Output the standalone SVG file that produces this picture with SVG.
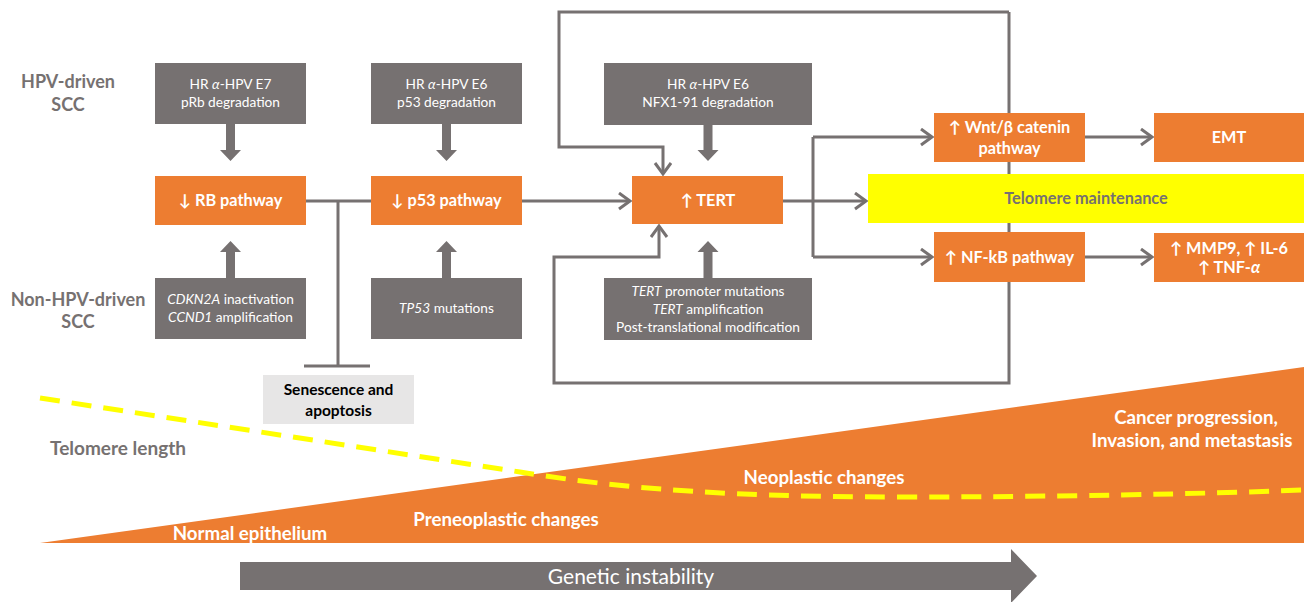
<svg xmlns="http://www.w3.org/2000/svg" width="1306" height="602" viewBox="0 0 1306 602">
<style>
text{font-family:Lato,"Liberation Sans","DejaVu Sans",sans-serif}
.g{fill:#767171}
.o{fill:#ED7D31}
.wt{fill:#fff;font-size:13.7px;text-anchor:middle}
.ot{fill:#fff;font-size:16.3px;font-weight:bold;text-anchor:middle}
.lb{fill:#767171;font-size:18px;font-weight:bold;text-anchor:middle}
.tri{fill:#fff;font-size:18.7px;font-weight:bold;text-anchor:middle}
.ln{fill:none;stroke:#767171;stroke-width:3}
</style>
<defs>
<marker id="ah" markerUnits="userSpaceOnUse" markerWidth="16" markerHeight="20" refX="13" refY="9" orient="auto" viewBox="0 0 16 20">
<path d="M2,1 L13,9 L2,17" fill="none" stroke="#767171" stroke-width="3"/>
</marker>
</defs>

<!-- background progression -->
<g id="progression">
<polygon class="o" points="40,543 1304,367 1304,543"/>
<path d="M40,398 L520,472 C600,485 700,497 900,497 C1050,497 1200,494 1304,490" fill="none" stroke="#FFFF00" stroke-width="5" stroke-dasharray="20,12"/>
<text class="tri" x="250" y="540">Normal epithelium</text>
<text class="tri" x="506" y="526">Preneoplastic changes</text>
<text class="tri" x="824" y="484">Neoplastic changes</text>
<text class="tri" x="1196" y="424">Cancer progression,</text>
<text class="tri" x="1192" y="447">Invasion, and metastasis</text>
<text class="lb" x="118" y="455" style="font-size:19px">Telomere length</text>
</g>

<g id="genetic-instability">
<polygon class="g" points="240,562 1011,562 1011,549 1037,576 1011,603 1011,590 240,590"/>
<text x="631" y="584" style="fill:#fff;font-size:21px;text-anchor:middle">Genetic instability</text>
</g>

<g id="row-labels">
<text class="lb" x="68" y="88">HPV-driven</text>
<text class="lb" x="68" y="111">SCC</text>
<text class="lb" x="78" y="306">Non-HPV-driven</text>
<text class="lb" x="78" y="328">SCC</text>
</g>

<!-- connectors -->
<g id="connectors">
<path class="ln" d="M306,201 H371"/>
<path class="ln" d="M338,201 V366"/>
<path class="ln" d="M304,366 H370"/>
<path class="ln" d="M522,201 H630" marker-end="url(#ah)"/>
<path class="ln" d="M1009,12 H559 V147 H663 V174" marker-end="url(#ah)"/>
<path class="ln" d="M1009,12 V383 H554 V257 H659 V226" marker-end="url(#ah)"/>
<path class="ln" d="M783,201 H866" marker-end="url(#ah)"/>
<path class="ln" d="M813,137 V257"/>
<path class="ln" d="M813,137 H932" marker-end="url(#ah)"/>
<path class="ln" d="M813,257 H932" marker-end="url(#ah)"/>
<path class="ln" d="M1085,137 H1152" marker-end="url(#ah)"/>
<path class="ln" d="M1085,257 H1152" marker-end="url(#ah)"/>
<!-- block arrows -->
<polygon class="g" points="226,124 235,124 235,150 241,150 230.5,161 220,150 226,150"/>
<polygon class="g" points="226,278 235,278 235,252 241,252 230.5,241 220,252 226,252"/>
<polygon class="g" points="442,124 451,124 451,150 457,150 446.5,161 436,150 442,150"/>
<polygon class="g" points="442,278 451,278 451,252 457,252 446.5,241 436,252 442,252"/>
<polygon class="g" points="703.5,125 712.5,125 712.5,150 718.5,150 708,161 697.5,150 703.5,150"/>
<polygon class="g" points="703.5,278 712.5,278 712.5,252 718.5,252 708,241 697.5,252 703.5,252"/>
</g>

<g id="e7">
<rect class="g" x="155" y="63" width="151" height="61"/>
<text class="wt" x="230.5" y="89">HR <tspan font-style="italic">α</tspan>-HPV E7</text>
<text class="wt" x="230.5" y="107">pRb degradation</text>
</g>
<g id="rb">
<rect class="o" x="155" y="176" width="151" height="49"/>
<text class="ot" x="230.5" y="206">↓ RB pathway</text>
</g>
<g id="cdkn2a">
<rect class="g" x="155" y="278" width="151" height="61"/>
<text class="wt" x="230.5" y="304"><tspan font-style="italic">CDKN2A</tspan> inactivation</text>
<text class="wt" x="230.5" y="322"><tspan font-style="italic">CCND1</tspan> amplification</text>
</g>

<g id="e6-p53">
<rect class="g" x="371" y="63" width="151" height="61"/>
<text class="wt" x="446.5" y="89">HR <tspan font-style="italic">α</tspan>-HPV E6</text>
<text class="wt" x="446.5" y="107">p53 degradation</text>
</g>
<g id="p53">
<rect class="o" x="371" y="176" width="151" height="49"/>
<text class="ot" x="446.5" y="206">↓ p53 pathway</text>
</g>
<g id="tp53">
<rect class="g" x="371" y="278" width="151" height="61"/>
<text class="wt" x="446.5" y="313"><tspan font-style="italic">TP53</tspan> mutations</text>
</g>

<g id="senescence">
<rect x="263" y="375" width="151" height="49" fill="#E7E6E6"/>
<text x="338.5" y="395" style="fill:#000;font-size:15.5px;font-weight:bold;text-anchor:middle">Senescence and</text>
<text x="338.5" y="416" style="fill:#000;font-size:15.5px;font-weight:bold;text-anchor:middle">apoptosis</text>
</g>

<g id="e6-nfx">
<rect class="g" x="604" y="63" width="208" height="62"/>
<text class="wt" x="708" y="89">HR <tspan font-style="italic">α</tspan>-HPV E6</text>
<text class="wt" x="708" y="107">NFX1-91 degradation</text>
</g>
<g id="tert">
<rect class="o" x="632" y="176" width="151" height="48"/>
<text class="ot" x="708" y="206">↑ TERT</text>
</g>
<g id="tert-mut">
<rect class="g" x="604" y="278" width="208" height="62"/>
<text class="wt" x="708" y="296"><tspan font-style="italic">TERT</tspan> promoter mutations</text>
<text class="wt" x="708" y="314"><tspan font-style="italic">TERT</tspan> amplification</text>
<text class="wt" x="708" y="332">Post-translational modification</text>
</g>

<g id="wnt">
<rect class="o" x="934" y="113" width="151" height="49"/>
<text class="ot" x="1009.5" y="133">↑ Wnt/β catenin</text>
<text class="ot" x="1009.5" y="154">pathway</text>
</g>
<g id="emt">
<rect class="o" x="1154" y="113" width="150" height="49"/>
<text class="ot" x="1229" y="143">EMT</text>
</g>
<g id="telomere-maintenance">
<rect x="868" y="174" width="436" height="49" fill="#FFFF00"/>
<text x="1086" y="204" style="fill:#767171;font-size:16.3px;font-weight:bold;text-anchor:middle">Telomere maintenance</text>
</g>
<g id="nfkb">
<rect class="o" x="934" y="232" width="151" height="50"/>
<text class="ot" x="1009.5" y="263">↑ NF-kB pathway</text>
</g>
<g id="mmp9">
<rect class="o" x="1154" y="233" width="150" height="49"/>
<text class="ot" x="1229" y="254">↑ MMP9, ↑ IL-6</text>
<text class="ot" x="1229" y="273">↑ TNF-<tspan font-style="italic">α</tspan></text>
</g>
</svg>
